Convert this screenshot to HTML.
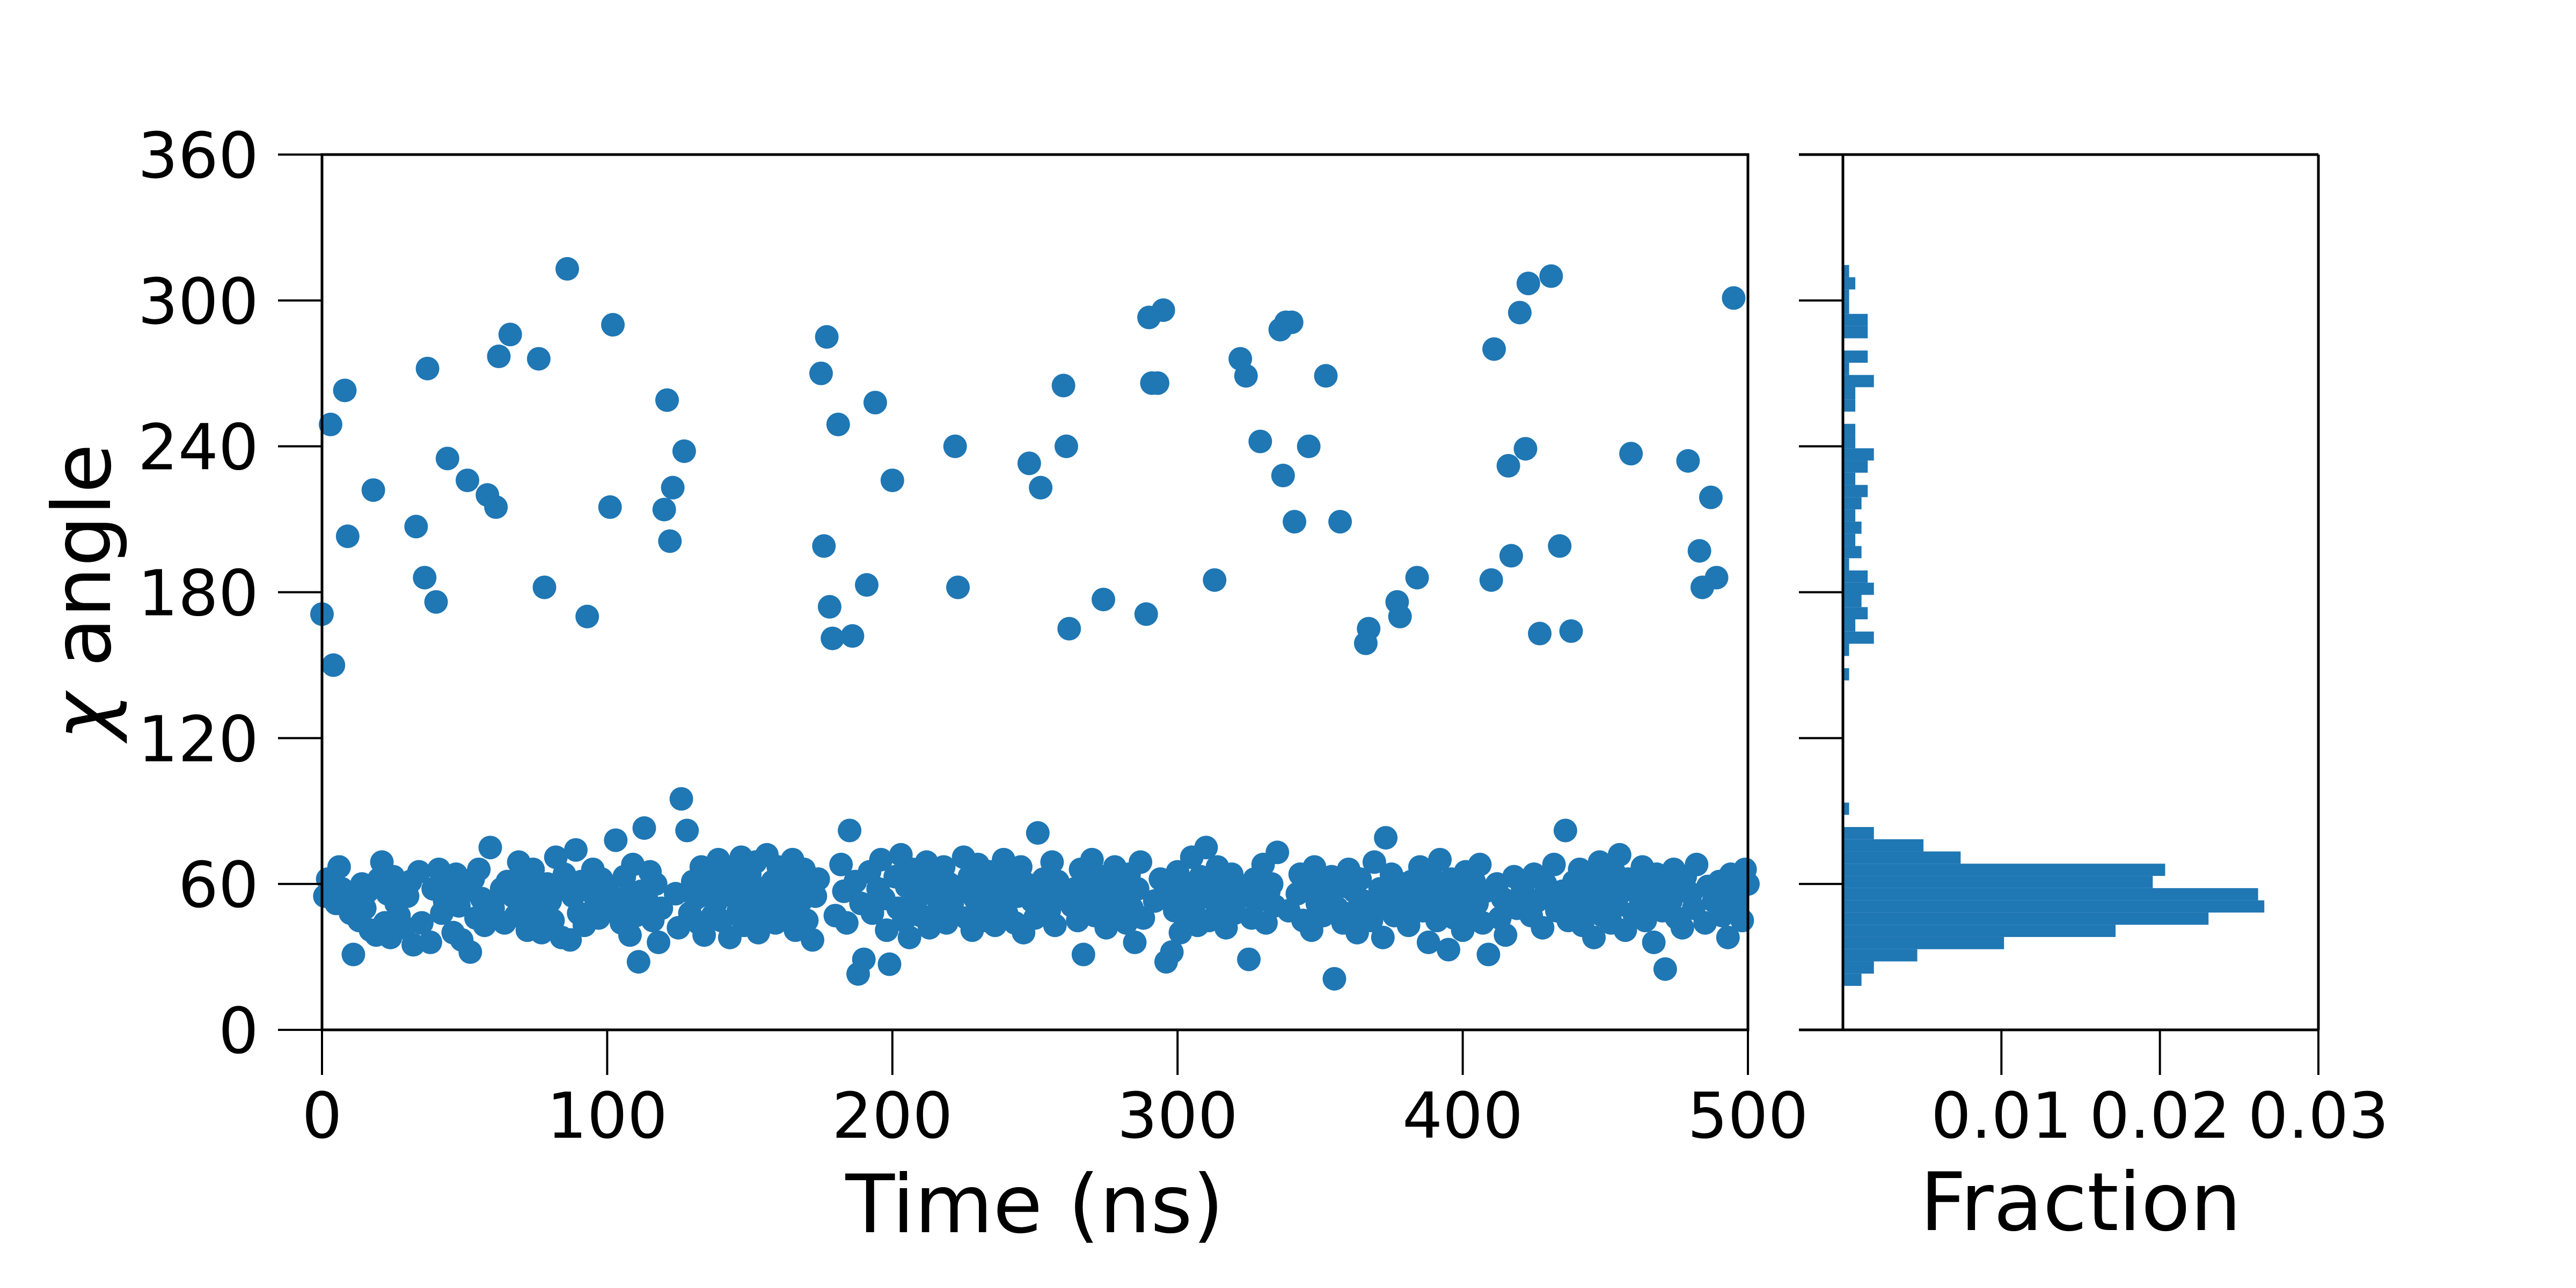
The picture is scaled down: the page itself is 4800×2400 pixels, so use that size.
<!DOCTYPE html>
<html><head><meta charset="utf-8"><style>
html,body{margin:0;padding:0;background:#fff;}
svg{display:block;font-family:"DejaVu Sans","Liberation Sans",sans-serif;}
</style></head><body>
<svg id="chart" width="4800" height="2400" viewBox="0 0 4800 2400" xmlns="http://www.w3.org/2000/svg">
<rect width="4800" height="2400" fill="#fff"/>
<g id="scatter"></g>
<g id="hist"></g>
<g id="axes"></g>
<text x="1928" y="2296" font-size="150" text-anchor="middle">Time (ns)</text>
<text x="3877" y="2292" font-size="150" text-anchor="middle">Fraction</text>
<text transform="translate(205,1103) rotate(-90)" font-size="150" text-anchor="middle"><tspan font-style="italic">χ</tspan> angle</text>
</svg>
<script>
const chiValues = [
171,55,62,249,150,52,67,58,263,203,48,31,54,45,60,50,57,41,222,39,
62,69,44,56,38,63,52,47,58,42,55,61,35,207,65,44,186,272,36,58,
176,66,48,53,235,59,40,64,51,37,57,226,32,62,46,66,54,43,220,75,
50,215,277,58,44,61,286,55,47,69,52,63,41,57,66,49,276,40,182,60,
53,45,71,59,38,64,313,37,55,74,48,61,43,170,57,66,51,46,62,53,
58,215,290,78,49,44,63,55,39,68,47,28,57,83,53,65,45,60,36,50,
214,259,201,223,56,42,95,238,82,48,61,54,44,67,39,58,63,47,52,70,
45,59,66,38,55,62,49,71,43,57,64,51,69,40,58,46,72,54,61,44,
67,50,56,63,48,70,41,59,53,66,45,60,37,55,62,270,199,285,174,161,
47,249,68,57,44,82,162,61,23,52,29,183,65,48,258,58,70,54,41,27,
226,63,50,72,45,59,38,66,53,61,47,56,69,42,58,64,49,55,67,44,
60,52,240,182,57,71,46,63,41,54,68,50,59,45,65,56,43,62,51,70,
48,58,64,44,55,67,40,60,233,53,46,81,223,62,57,49,69,43,61,55,
265,240,165,51,58,45,66,31,60,53,70,47,56,63,177,42,59,52,67,48,
61,55,44,64,50,36,58,69,46,171,293,266,53,266,62,296,28,57,32,49,
65,40,56,60,47,71,52,43,63,58,75,45,54,185,67,50,61,42,57,64,
48,59,276,55,269,29,46,62,53,242,68,44,57,60,51,73,288,228,291,49,
291,209,56,64,45,58,240,41,67,52,61,47,269,55,63,21,50,209,44,59,
66,48,57,40,62,53,159,165,45,69,51,58,38,79,55,64,47,176,170,60,
52,43,61,56,186,67,49,58,36,63,54,45,70,57,50,33,62,46,59,53,
41,65,56,48,61,52,68,44,57,31,185,280,60,46,54,39,232,195,63,50,
295,58,239,307,47,64,53,163,42,60,55,310,68,49,199,57,82,45,164,61,
52,66,43,58,50,63,38,56,69,47,60,54,44,65,51,72,57,41,62,237,
48,59,55,67,45,61,52,36,64,57,49,25,60,53,66,46,58,42,63,234,
56,50,68,197,182,44,59,219,53,186,61,47,55,38,64,301,52,58,45,66,
60];
const histCounts = [3,5,12,26,44,59,68,67,50,52,19,13,5,0,1,0,0,0,0,0,0,0,0,0,0,
1,0,1,5,2,4,3,5,4,1,3,2,3,2,3,4,2,4,5,2,2,0,2,2,5,1,4,0,4,4,1,1,2,1];
const histStart = 18.1;
const histBinWidth = 5.025;
const xTicks = [0,100,200,300,400,500];
const yTicks = [0,60,120,180,240,300,360];
const fracTicks = [0.01,0.02,0.03];
const fracTickLabels = ["0.01","0.02","0.03"];

const NS="http://www.w3.org/2000/svg";
const L=600,R=3257,T=288,B=1919;
const HL=3352,H0=3434,HR=4320;
const xS=t=>L+(t/500)*(R-L);
const yS=v=>B-(v/360)*(B-T);
const fS=f=>H0+f/0.03*(HR-H0);
function mk(tag,attrs,parent){const e=document.createElementNS(NS,tag);for(const k in attrs)e.setAttribute(k,attrs[k]);parent.appendChild(e);return e;}

const sg=document.getElementById('scatter');
chiValues.forEach((v,i)=>{
  const c=mk('circle',{cx:xS(i),cy:yS(v),r:22,fill:'#1f77b4'},sg);
  
  
});

const hg=document.getElementById('hist');
const total=histCounts.reduce((a,b)=>a+b,0);
histCounts.forEach((c,i)=>{
  if(!c)return;
  const d=c/(total*histBinWidth);
  const y0=yS(histStart+i*histBinWidth), y1=yS(histStart+(i+1)*histBinWidth);
  const r=mk('rect',{x:H0,y:y1,width:fS(d)-H0,height:y0-y1,fill:'#1f77b4'},hg);
  
  
});

const ag=document.getElementById('axes');
const box=mk('rect',{x:L,y:T,width:R-L,height:B-T,fill:'none',stroke:'#000','stroke-width':5},ag);


mk('line',{x1:HL,y1:T,x2:HR,y2:T,stroke:'#000','stroke-width':5},ag);
mk('line',{x1:HL,y1:B,x2:HR,y2:B,stroke:'#000','stroke-width':5},ag);
mk('line',{x1:HR,y1:T,x2:HR,y2:B,stroke:'#000','stroke-width':5},ag);
mk('line',{x1:H0,y1:T,x2:H0,y2:B,stroke:'#000','stroke-width':5},ag);
xTicks.forEach(t=>{
  const x=xS(t);
  mk('line',{x1:x,y1:B,x2:x,y2:B+84,stroke:'#000','stroke-width':4},ag);
  const tx=mk('text',{x:x,y:2120,'font-size':118,'text-anchor':'middle'},ag);
  tx.textContent=t;
  
  
});
yTicks.forEach(v=>{
  const y=yS(v);
  mk('line',{x1:L-82,y1:y,x2:L,y2:y,stroke:'#000','stroke-width':4},ag);
  mk('line',{x1:HL,y1:y,x2:H0,y2:y,stroke:'#000','stroke-width':4},ag);
  const tx=mk('text',{x:482,y:y+43,'font-size':118,'text-anchor':'end'},ag);
  tx.textContent=v;
  
  
});
fracTicks.forEach((f,i)=>{
  const x=fS(f);
  mk('line',{x1:x,y1:B,x2:x,y2:B+84,stroke:'#000','stroke-width':4},ag);
  const tx=mk('text',{x:x,y:2120,'font-size':118,'text-anchor':'middle'},ag);
  tx.textContent=fracTickLabels[i];
  
  
});
</script>
</body></html>
